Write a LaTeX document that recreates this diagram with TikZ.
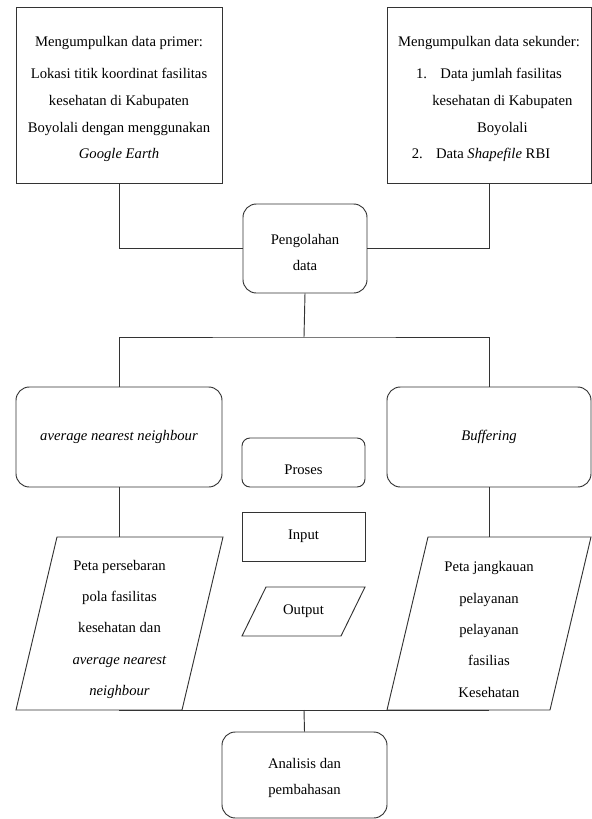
\documentclass[tikz,border=0pt]{standalone}
\usepackage{fontspec}
\setmainfont{Liberation Serif}
\usetikzlibrary{positioning}

% strut that pushes the text of a node down
\newcommand{\downpad}[1]{\rule{0pt}{#1}}

\begin{document}
\begin{tikzpicture}[x=0.75pt, y=-0.75pt,
    every node/.style={font=\fontsize{11}{20}\selectfont, align=center, inner sep=2pt},
    line/.style={draw=black!80, line width=0.7pt},
    inbox/.style={line, rectangle},
    procbox/.style={line, rectangle, rounded corners=10pt},
    outframe/.style={rectangle, outer sep=0pt, font=\fontsize{11}{23.5}\selectfont}]
  \useasboundingbox (0,0) rectangle (592,819);

  % input data
  \node[inbox, minimum width=154.5pt, minimum height=132pt] (primer) at (119,95)
    {\downpad{14pt}Mengumpulkan data primer:\\[4pt]
     Lokasi titik koordinat fasilitas\\
     kesehatan di Kabupaten\\
     Boyolali dengan menggunakan\\
     \textit{Google Earth}};
  \node[inbox, minimum width=153pt, minimum height=132pt] (sekunder) at (489,95)
    {\downpad{14pt}Mengumpulkan data sekunder:\\[4pt]
     1.\hspace{10pt}Data jumlah fasilitas\\
     \hspace*{20pt}kesehatan di Kabupaten\\
     \hspace*{20pt}Boyolali\\
     \hspace*{-12pt}2.\hspace{10pt}Data \textit{Shapefile} RBI};

  % processing
  \node[procbox, minimum width=93pt, minimum height=66.75pt] (olah) at (305,248.5)
    {\downpad{13.5pt}Pengolahan\\data};
  \node[procbox, minimum width=154.5pt, minimum height=75pt] (ann) at (119,437)
    {\textit{average nearest neighbour}};
  \node[procbox, minimum width=153pt, minimum height=75pt] (buf) at (489,437)
    {\textit{Buffering}};

  % legend
  \node[procbox, rounded corners=6pt, minimum width=92.25pt, minimum height=36.75pt]
    (proses) at (303.5,462.5) {\downpad{17.5pt}Proses};
  \node[inbox, minimum width=92.25pt, minimum height=36.75pt]
    (input) at (303.5,536.5) {Input};
  \node[outframe, minimum width=92.25pt, minimum height=36.75pt]
    (output) at (303.5,611.5) {Output};
  \draw[line] ([xshift=18pt]output.north west) -- (output.north east)
    -- ([xshift=-18pt]output.south east) -- (output.south west) -- cycle;

  % output maps
  \node[outframe, minimum width=155.25pt, minimum height=129.75pt] (peta1) at (119.5,623.5)
    {\downpad{16.5pt}Peta persebaran\\pola fasilitas\\kesehatan dan\\\textit{average nearest}\\\textit{neighbour}};
  \draw[line] ([xshift=30.75pt]peta1.north west) -- (peta1.north east)
    -- ([xshift=-30.75pt]peta1.south east) -- (peta1.south west) -- cycle;
  \node[outframe, minimum width=153pt, minimum height=129.75pt] (peta2) at (489,623.5)
    {\downpad{16.5pt}Peta jangkauan\\pelayanan\\pelayanan\\fasilias\\Kesehatan};
  \draw[line] ([xshift=30.75pt]peta2.north west) -- (peta2.north east)
    -- ([xshift=-30.75pt]peta2.south east) -- (peta2.south west) -- cycle;

  % result
  \node[procbox, minimum width=123.75pt, minimum height=64.5pt] (analisis) at (304.5,775)
    {\downpad{12pt}Analisis dan\\pembahasan};

  % connectors
  \coordinate (split1) at (304,337);
  \coordinate (split2) at (304,710);
  \draw[line] (primer.south) |- (olah.west);
  \draw[line] (sekunder.south) |- (olah.east);
  \draw[line] (olah.south) -- (split1);
  \draw[line] (ann.north) |- (split1) -| (buf.north);
  \draw[line] (ann.south) -- (ann.south |- peta1.north);
  \draw[line] (buf.south) -- (buf.south |- peta2.north);
  \draw[line] (ann.south |- peta1.south) -- (split2) -| (buf.south |- peta2.south);
  \draw[line] (split2) -- (analisis.north);
\end{tikzpicture}
\end{document}
